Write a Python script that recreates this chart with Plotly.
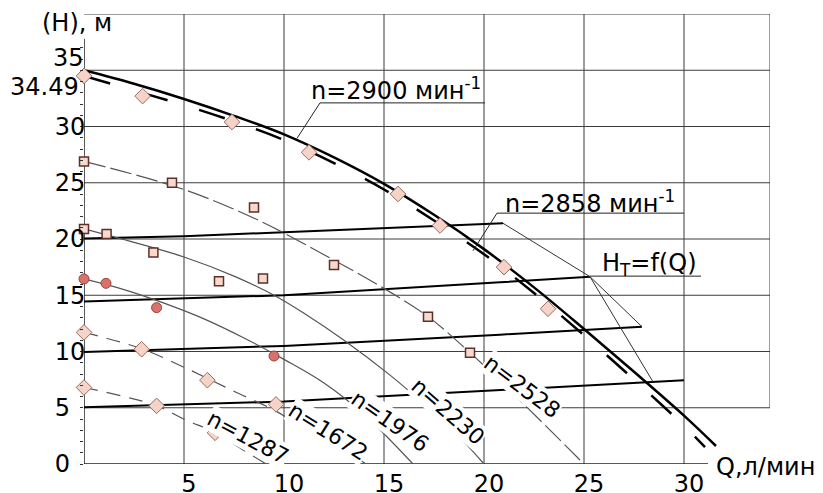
import plotly.graph_objects as go

# ---------------- axes / ticks ----------------
x_tick_vals = [5, 10, 15, 20, 25, 30]
x_tick_text = ["5", "10", "15", "20", "25", "30"]
y_tick_vals = [0, 5, 10, 15, 20, 25, 30]
# single digits are left-aligned in the original (figure space pads them)
y_tick_text = ["0\u2007", "5\u2007", "10", "15", "20", "25", "30"]
x_grid = [5, 10, 15, 20, 25, 30]
y_grid = [5, 10, 15, 20, 25, 30, 35]
X_MAX = 34.3
Y_MAX = 40

# ---------------- pump curves ----------------
q_2900 = [0, 2.5, 5, 7.5, 10, 12.5, 15, 17.5, 20, 22.5, 25, 27.5, 30, 31.6]
h_2900 = [35.0, 33.8, 32.45, 30.95, 29.3, 27.25, 24.9, 22.15, 19.1, 15.7, 12.0, 8.2, 4.3, 1.6]

q_2858 = [0, 2.5, 5, 7.5, 10, 12.5, 15, 17.5, 20, 22.5, 25, 27.5, 30, 31.05]
h_2858 = [34.49, 33.2, 31.9, 30.45, 28.8, 26.75, 24.4, 21.65, 18.65, 15.2, 11.45, 7.5, 3.4, 1.5]

q_2528 = [0, 5, 8.8, 12, 15.1, 17.2, 19.3, 22, 25]
h_2528 = [26.9, 24.4, 21.6, 18.6, 15.5, 13.1, 9.9, 5.3, 0]

q_2230 = [0, 2.5, 5, 7.5, 9.5, 11, 13, 15.3, 16.5, 18.5, 20]
h_2230 = [20.9, 19.7, 18.4, 16.7, 15.0, 13.4, 11.0, 7.9, 6.1, 2.9, 0]

q_1976 = [0, 2, 4, 6, 8, 10, 12, 14, 16.45]
h_1976 = [16.45, 15.5, 14.3, 12.9, 11.2, 9.3, 7.2, 4.4, 0]

q_1672 = [0, 2.87, 5, 7.4, 9.6, 10.6, 12, 13.4, 14.1]
h_1672 = [11.7, 10.25, 8.6, 6.55, 4.7, 3.6, 2.2, 0.8, 0]

q_1287 = [0, 2, 3.6, 5.1, 6.55, 8, 9.1]
h_1287 = [6.8, 6.0, 5.2, 3.9, 2.8, 1.2, 0]

# ---------------- measured points ----------------
q_m2900 = [0, 2.93, 7.4, 11.25, 15.7, 17.8, 21.0, 23.2]
h_m2900 = [34.5, 32.7, 30.4, 27.7, 24.0, 21.2, 17.5, 13.8]
q_m2528 = [0, 4.4, 8.5, 12.5, 17.2, 19.3]
h_m2528 = [26.9, 25.0, 22.8, 17.7, 13.1, 9.9]
q_m2230 = [0, 1.13, 3.47, 6.75, 8.95]
h_m2230 = [20.9, 20.45, 18.8, 16.25, 16.5]
q_m1976 = [0, 1.1, 3.63, 9.5]
h_m1976 = [16.45, 16.06, 13.9, 9.6]
q_m1672 = [0, 2.88, 6.17, 9.6]
h_m1672 = [11.7, 10.2, 7.45, 5.3]
q_m1287 = [0, 3.63, 6.55]
h_m1287 = [6.8, 5.17, 2.77]

# ---------------- system characteristics ----------------
q_sA = [0, 5, 10, 15, 20.95]
h_sA = [20.05, 20.25, 20.6, 20.95, 21.4]
q_sB = [0, 10, 20.8, 25.3]
h_sB = [14.45, 15.0, 16.15, 16.65]
q_sC = [0, 10, 20.8, 27.9]
h_sC = [9.95, 10.5, 11.5, 12.2]
q_sD = [0, 10, 20.6, 30]
h_sD = [5.05, 5.55, 6.55, 7.44]

# H_T = f(Q)
q_t1 = [20.95, 25.3, 27.9]
h_t1 = [21.4, 16.65, 12.2]
q_t2 = [25.3, 28.45]
h_t2 = [16.65, 7.3]

# curve labels
lab_text = ["n=1287", "n=1672", "n=1976", "n=2230", "n=2528"]
lab_q = [8.2, 12.2, 15.3, 18.2, 21.9]
lab_h = [2.4, 2.9, 3.8, 4.7, 6.9]
lab_ang = [28, 32, 35, 41, 37]

FONT = "DejaVu Sans"
GRAY = "#555555"

fig = go.Figure()

def line(q, h, color="black", width=2, dash="solid", shape="spline"):
    fig.add_trace(go.Scatter(x=q, y=h, mode="lines",
                             line=dict(color=color, width=width, dash=dash, shape=shape),
                             hoverinfo="skip", showlegend=False))

# system lines
for q, h in [(q_sA, h_sA), (q_sB, h_sB), (q_sC, h_sC), (q_sD, h_sD)]:
    line(q, h, width=2, shape="linear")
line(q_t1, h_t1, color="#333", width=1, shape="linear")
line(q_t2, h_t2, color="#333", width=1, shape="linear")

# pump curves
line(q_2528, h_2528, color=GRAY, width=1.2, dash="22px,5px")
line(q_2230, h_2230, color=GRAY, width=1.2)
line(q_1976, h_1976, color=GRAY, width=1.2)
line(q_1672, h_1672, color=GRAY, width=1.2, dash="14px,9px")
line(q_1287, h_1287, color=GRAY, width=1.2, dash="14px,9px")
line(q_2858, h_2858, color="black", width=2.5, dash="27px,33px")
line(q_2900, h_2900, color="black", width=2.5)

def markers(q, h, symbol, size, fill, edge, ew=1):
    fig.add_trace(go.Scatter(x=q, y=h, mode="markers",
                             marker=dict(symbol=symbol, size=size, color=fill,
                                         line=dict(color=edge, width=ew)),
                             hoverinfo="skip", showlegend=False, cliponaxis=False))

markers(q_m2900, h_m2900, "diamond", 12, "#f5d3c8", "#9a6a5e")
markers(q_m2528, h_m2528, "square", 9, "#f8d9cd", "#5e3027", 1.5)
markers(q_m2230, h_m2230, "square", 9, "#f8d9cd", "#5e3027", 1.5)
markers(q_m1976, h_m1976, "circle", 10, "#d7736a", "#98443d")
markers(q_m1672, h_m1672, "diamond", 12, "#f5d3c8", "#9a6a5e")
markers(q_m1287, h_m1287, "diamond", 12, "#f5d3c8", "#9a6a5e")

# ---------------- shapes: grid & frame ----------------
shapes = []
GRID = dict(color="#3c3c3c", width=1)
for gx in x_grid:
    shapes.append(dict(type="line", xref="x", yref="y", x0=gx, x1=gx, y0=0, y1=Y_MAX,
                       line=GRID, layer="below"))
for gy in y_grid:
    shapes.append(dict(type="line", xref="x", yref="y", x0=0, x1=X_MAX, y0=gy, y1=gy,
                       line=GRID, layer="below"))
shapes.append(dict(type="line", xref="x", yref="y", x0=0, x1=X_MAX, y0=Y_MAX, y1=Y_MAX,
                   line=GRID, layer="below"))
shapes.append(dict(type="line", xref="x", yref="y", x0=X_MAX, x1=X_MAX, y0=5, y1=Y_MAX,
                   line=GRID, layer="below"))
# axis lines
shapes.append(dict(type="line", xref="x", yref="y", x0=0, x1=0, y0=0, y1=37.8,
                   line=dict(color="#222", width=1.5), layer="below"))
shapes.append(dict(type="line", xref="x", yref="y", x0=0, x1=31.2, y0=0, y1=0,
                   line=dict(color="#222", width=1.5), layer="below"))
# callout leaders / underlines
THIN = dict(color="#222", width=1)
shapes += [
    dict(type="line", xref="x", yref="y", x0=11.8, x1=20.05, y0=32.1, y1=32.1, line=THIN),
    dict(type="line", xref="x", yref="y", x0=11.8, x1=10.65, y0=32.1, y1=28.95, line=THIN),
    dict(type="line", xref="x", yref="y", x0=20.65, x1=30.0, y0=22.3, y1=22.3, line=THIN),
    dict(type="line", xref="x", yref="y", x0=20.65, x1=19.45, y0=22.3, y1=18.95, line=THIN),
    dict(type="line", xref="x", yref="y", x0=25.3, x1=30.85, y0=16.7, y1=16.7, line=THIN),
]

# ---------------- annotations ----------------
ann = []
for t, q, h, a in zip(lab_text, lab_q, lab_h, lab_ang):
    ann.append(dict(x=q, y=h, xref="x", yref="y", text=t, showarrow=False,
                    textangle=a, bgcolor="white", borderpad=0,
                    font=dict(family=FONT, size=22, color="black")))
TF = dict(family=FONT, size=24, color="black")
ann += [
    dict(x=11.25, y=33.3, xref="x", yref="y", text="n=2900 мин<sup>-1</sup>",
         showarrow=False, xanchor="left", yanchor="middle", font=TF),
    dict(x=20.95, y=23.3, xref="x", yref="y", text="n=2858 мин<sup>-1</sup>",
         showarrow=False, xanchor="left", yanchor="middle", font=TF),
    dict(x=25.8, y=17.75, xref="x", yref="y", text="H<sub>T</sub>=f(Q)",
         showarrow=False, xanchor="left", yanchor="middle", font=TF),
    dict(x=-0.0095, y=0.98, xref="paper", yref="paper", text="(H), м",
         showarrow=False, xanchor="center", yanchor="middle", font=TF),
    dict(x=0.918, y=-0.007, xref="paper", yref="paper", text="Q,л/мин",
         showarrow=False, xanchor="left", yanchor="middle", font=TF),
    dict(x=0.003, y=0.902, xref="paper", yref="paper", text="35",
         showarrow=False, xanchor="right", yanchor="middle", font=TF),
    dict(x=-0.004, y=0.837, xref="paper", yref="paper", text="34.49",
         showarrow=False, xanchor="right", yanchor="middle", font=TF),
]

# the page body adds an 8px offset; margins compensate so the plot area
# lands at x 84..770, y 14..464 of the viewport
fig.update_layout(
    width=823, height=493, template="none",
    margin=dict(l=76, r=61, t=6, b=37),
    paper_bgcolor="white", plot_bgcolor="white",
    showlegend=False, shapes=shapes, annotations=ann,
    font=dict(family=FONT, size=24, color="black"),
)
fig.update_xaxes(range=[0, X_MAX], tickvals=x_tick_vals, ticktext=x_tick_text,
                 showgrid=False, zeroline=False, showline=False, ticks="",
                 tickfont=TF, automargin=False, ticklabelshift=5, ticklabelstandoff=3)
fig.update_yaxes(range=[0, Y_MAX], tickvals=y_tick_vals, ticktext=y_tick_text,
                 showgrid=False, zeroline=False, showline=False,
                 ticks="outside", ticklen=3, tickcolor="#333",
                 minor=dict(tickvals=list(range(0, 38)), ticks="outside", ticklen=3, tickcolor="#333"),
                 tickfont=TF, automargin=False, ticklabelstandoff=-10)

fig.write_html("out.html")
